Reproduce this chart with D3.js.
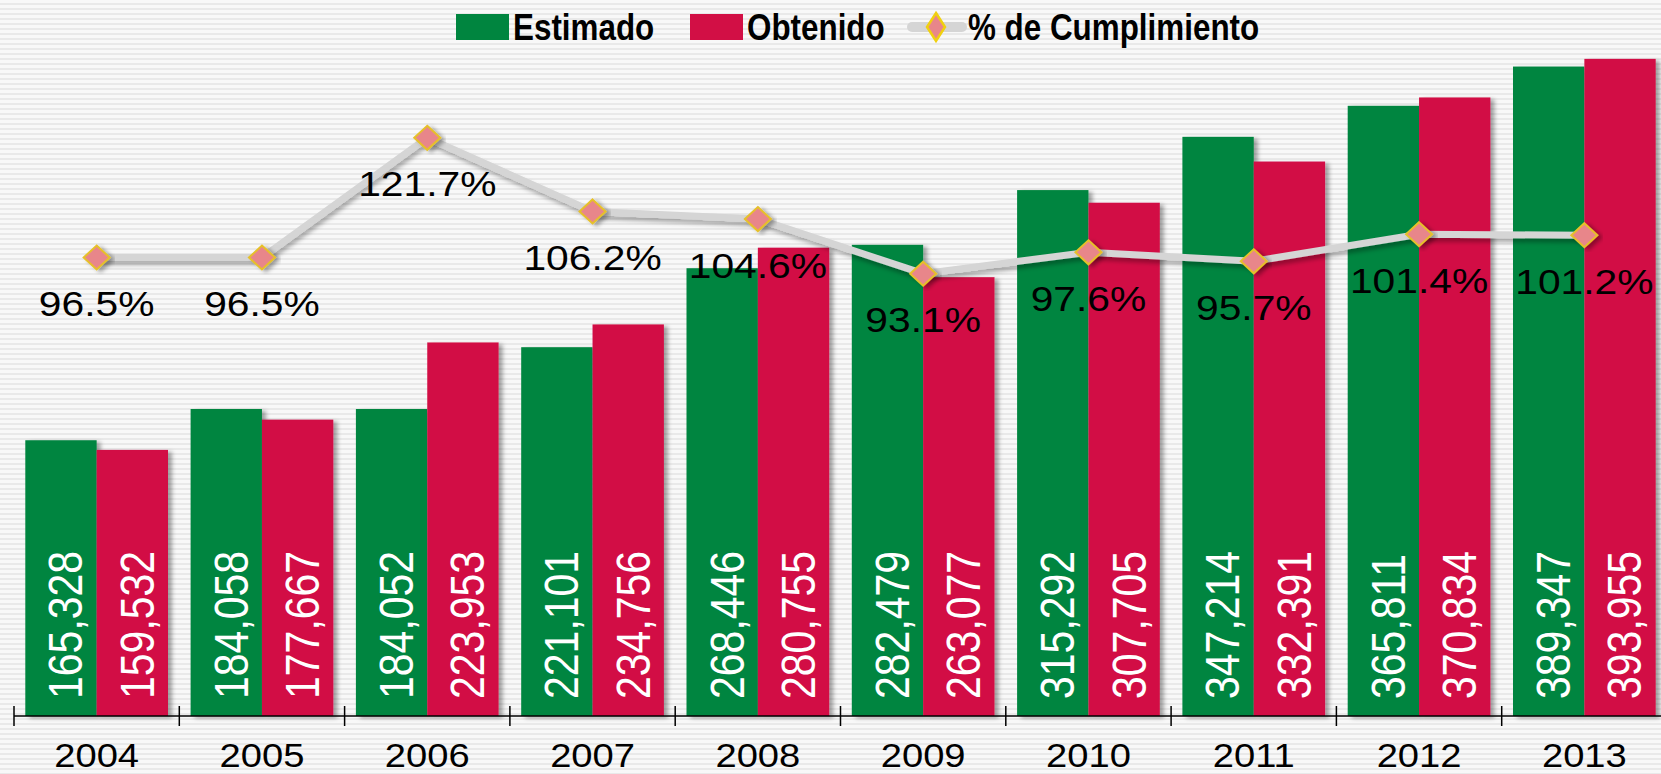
<!DOCTYPE html>
<html>
<head>
<meta charset="utf-8">
<script src="https://cdn.jsdelivr.net/npm/d3@7"></script>
<style>
    body { margin: 0; background: #fff; }
    #chart svg { display: block; }
</style>
</head>
<body>
<div id="chart"></div>
<script>
const years = ["2004", "2005", "2006", "2007", "2008", "2009", "2010", "2011", "2012", "2013"];
const estimado = [165328, 184058, 184052, 221101, 268446, 282479, 315292, 347214, 365811, 389347];
const obtenido = [159532, 177667, 223953, 234756, 280755, 263077, 307705, 332391, 370834, 393955];
const cumplimiento = [96.5, 96.5, 121.7, 106.2, 104.6, 93.1, 97.6, 95.7, 101.4, 101.2];
const seriesNames = ["Estimado", "Obtenido"];
const lineName = "% de Cumplimiento";

function drawChart() {
    const width = 1661, height = 774;
    const baseY = 716;
    const bandW = 165.3;
    const left = 14;
    const GREEN = "#00853f", RED = "#d20f45";

    const svg = d3.select("#chart").append("svg")
        .attr("width", width)
        .attr("height", height)
        .style("font-family", "'Liberation Sans', Arial, sans-serif");

    const defs = svg.append("defs");
    // striped background
    const pat = defs.append("pattern")
        .attr("id", "stripes")
        .attr("patternUnits", "userSpaceOnUse")
        .attr("width", 10).attr("height", 5);
    pat.append("rect").attr("width", 10).attr("height", 5).attr("fill", "#f8f8f8");
    pat.append("rect").attr("y", 3).attr("width", 10).attr("height", 2).attr("fill", "#e9e9e9");

    const shadow = defs.append("filter").attr("id", "shadow")
        .attr("x", "-10%").attr("y", "-10%").attr("width", "130%").attr("height", "130%");
    shadow.append("feDropShadow")
        .attr("dx", 4).attr("dy", 2).attr("stdDeviation", 2)
        .attr("flood-color", "#000").attr("flood-opacity", 0.35);

    const lineShadow = defs.append("filter").attr("id", "lineShadow")
        .attr("x", "-10%").attr("y", "-50%").attr("width", "120%").attr("height", "200%");
    lineShadow.append("feDropShadow")
        .attr("dx", 2).attr("dy", 4).attr("stdDeviation", 2)
        .attr("flood-color", "#000").attr("flood-opacity", 0.3);

    svg.append("rect").attr("width", width).attr("height", height).attr("fill", "url(#stripes)");

    const x = d3.scaleBand()
        .domain(years)
        .range([left, left + bandW * years.length])
        .padding(0);

    const x1 = d3.scaleBand()
        .domain(seriesNames)
        .range([11.3, x.bandwidth() - 11.3])
        .padding(0);

    const y = d3.scaleLinear()
        .domain([0, 429250])
        .range([baseY, 0]);

    const y2 = d3.scaleLinear()
        .domain([0, 150.7])
        .range([baseY, 0]);

    const color = d3.scaleOrdinal().domain(seriesNames).range([GREEN, RED]);

    const rows = years.map((yr, i) => ({
        year: yr,
        values: [
            { key: "Estimado", value: estimado[i] },
            { key: "Obtenido", value: obtenido[i] }
        ],
        pct: cumplimiento[i]
    }));

    // bars
    const groups = svg.append("g").selectAll("g")
        .data(rows)
        .join("g")
        .attr("transform", d => `translate(${x(d.year)},0)`);

    groups.selectAll("rect")
        .data(d => d.values)
        .join("rect")
        .attr("x", d => x1(d.key))
        .attr("y", d => y(d.value))
        .attr("width", x1.bandwidth())
        .attr("height", d => y(0) - y(d.value))
        .attr("fill", d => color(d.key))
        .attr("filter", "url(#shadow)");

    const fmt = d3.format(",");
    groups.selectAll("text")
        .data(d => d.values)
        .join("text")
        .attr("transform", d => `translate(${x1(d.key) + x1.bandwidth() / 2 + 3.8},${baseY - 17}) scale(1.19,1) rotate(-90)`)
        .attr("dy", "0.36em")
        .attr("fill", "#fff")
        .style("font-size", "41px")
        .text(d => fmt(d.value));

    // axis
    const axisG = svg.append("g");
    axisG.append("line")
        .attr("x1", left).attr("x2", width)
        .attr("y1", baseY).attr("y2", baseY)
        .attr("stroke", "#000").attr("stroke-width", 1.5);
    axisG.selectAll(".tick")
        .data(d3.range(years.length + 1))
        .join("line")
        .attr("class", "tick")
        .attr("x1", i => left + i * x.step())
        .attr("x2", i => left + i * x.step())
        .attr("y1", baseY - 10).attr("y2", baseY + 10)
        .attr("stroke", "#000").attr("stroke-width", 1.5);
    axisG.selectAll("text")
        .data(years)
        .join("text")
        .attr("transform", d => `translate(${x(d) + x.bandwidth() / 2},767) scale(1.17,1)`)
        .attr("text-anchor", "middle")
        .attr("fill", "#000")
        .style("font-size", "32.6px")
        .text(d => d);

    // % line
    const cx = d => x(d.year) + x.bandwidth() / 2;
    const line = d3.line().x(cx).y(d => y2(d.pct));
    svg.append("path")
        .datum(rows)
        .attr("d", line)
        .attr("fill", "none")
        .attr("stroke", "#d5d5d5")
        .attr("stroke-width", 7)
        .attr("filter", "url(#lineShadow)");

    const diamond = (w, h) => `M0,${-h}L${w},0L0,${h}L${-w},0Z`;
    svg.append("g").selectAll("path")
        .data(rows)
        .join("path")
        .attr("transform", d => `translate(${cx(d)},${y2(d.pct)})`)
        .attr("d", diamond(13, 12))
        .attr("fill", "#e8868a")
        .attr("stroke", "#e6c02a")
        .attr("stroke-width", 2)
        .attr("filter", "url(#shadow)");

    svg.append("g").selectAll("text")
        .data(rows)
        .join("text")
        .attr("transform", d => `translate(${cx(d)},${y2(d.pct) + 58.5}) scale(1.165,1)`)
        .attr("text-anchor", "middle")
        .attr("fill", "#000")
        .style("font-size", "35px")
        .text(d => d3.format(".1f")(d.pct) + "%");

    // legend (condensed bold text)
    const legend = svg.append("g")
        .style("font-weight", "bold")
        .style("font-size", "36.5px");
    const swatchX = [456, 690];
    seriesNames.forEach((s, i) => {
        legend.append("rect")
            .attr("x", swatchX[i]).attr("y", 14)
            .attr("width", 53).attr("height", 26)
            .attr("fill", color(s));
        legend.append("text")
            .attr("transform", `translate(${swatchX[i] + 57},40) scale(0.86,1)`)
            .text(s);
    });
    legend.append("line")
        .attr("x1", 912).attr("x2", 962)
        .attr("y1", 27).attr("y2", 27)
        .attr("stroke", "#d5d5d5").attr("stroke-width", 10)
        .attr("stroke-linecap", "round");
    legend.append("path")
        .attr("transform", "translate(936,27)")
        .attr("d", diamond(9, 14))
        .attr("fill", "#e8868a")
        .attr("stroke", "#f0d010")
        .attr("stroke-width", 2.5);
    legend.append("text")
        .attr("transform", "translate(968,40) scale(0.86,1)")
        .text(lineName);
}

drawChart();
</script>
</body>
</html>
